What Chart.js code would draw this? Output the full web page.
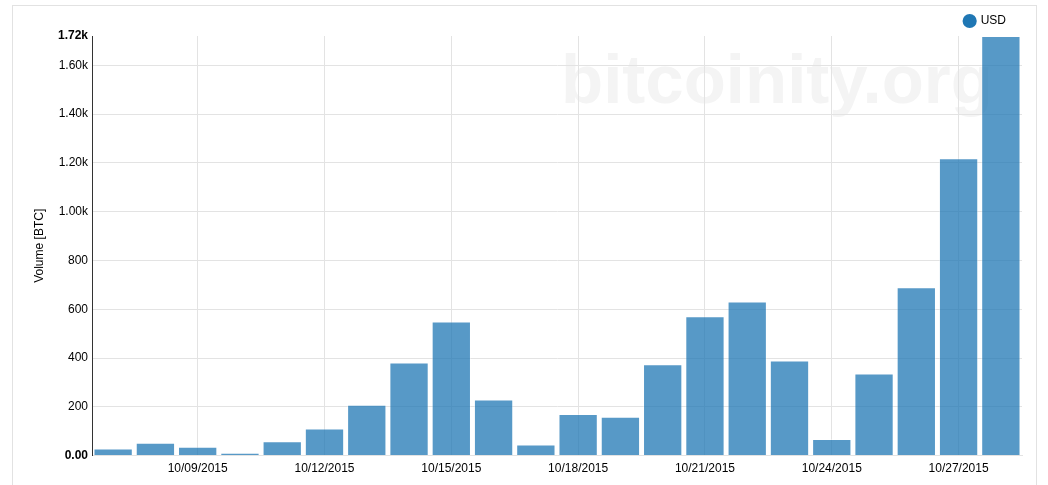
<!DOCTYPE html>
<html>
<head>
<meta charset="utf-8">
<script src="https://cdn.jsdelivr.net/npm/chart.js@4"></script>
<style>
  html, body { margin: 0; padding: 0; background: #fff; }
  body { width: 1048px; height: 485px; position: relative; overflow: hidden; }
  #frame {
    position: absolute; left: 12px; top: 5px; width: 1025px; height: 500px;
    border: 1px solid #e2e2e2; box-sizing: border-box;
  }
  #mark {
    position: absolute; left: 561px; top: 40px;
    font: bold 69px "Liberation Sans", Arial, sans-serif;
    color: #f4f4f4; white-space: nowrap;
  }
  #wrap { position: absolute; left: 0; top: 0; width: 1048px; height: 485px; }
</style>
</head>
<body>
<div id="frame"></div>
<div id="mark">bitcoinity.org</div>
<div id="wrap"><canvas id="myChart" width="1048" height="485"></canvas></div>
<script>
const days = ["10/07/2015", "10/08/2015", "10/09/2015", "10/10/2015", "10/11/2015", "10/12/2015",
    "10/13/2015", "10/14/2015", "10/15/2015", "10/16/2015", "10/17/2015", "10/18/2015",
    "10/19/2015", "10/20/2015", "10/21/2015", "10/22/2015", "10/23/2015", "10/24/2015",
    "10/25/2015", "10/26/2015", "10/27/2015", "10/28/2015"];
const usdVolume = [29, 53, 36, 12, 59, 111, 208, 382, 550, 230, 45, 171,
    159, 374, 571, 632, 390, 68, 337, 690, 1219, 1720];
const yTickValues = [0, 200, 400, 600, 800, 1000, 1200, 1400, 1600, 1720];
const yTickLabels = ["0.00", "200", "400", "600", "800", "1.00k", "1.20k", "1.40k", "1.60k", "1.72k"];

const font = "'Liberation Sans', Arial, sans-serif";
const shown = i => i % 3 === 2;

// nudge the legend a little left/down, like the original
const legendNudge = {
    id: "legendNudge",
    afterLayout(chart) {
        const lg = chart.legend;
        lg.left -= 6; lg.right -= 6;
        lg.top += 1; lg.bottom += 1;
    }
};

new Chart(document.getElementById("myChart"), {
    type: "bar",
    data: {
        labels: days,
        datasets: [{
            label: "USD",
            data: usdVolume,
            backgroundColor: "rgba(31,119,180,0.75)",
            borderColor: "rgba(255,255,255,0.35)",
            borderWidth: 1,
            barPercentage: 0.93,
            categoryPercentage: 1
        }]
    },
    plugins: [legendNudge],
    options: {
        responsive: false,
        animation: false,
        devicePixelRatio: 1,
        layout: { padding: { left: 26, right: 26, top: 4, bottom: 3 } },
        plugins: {
            tooltip: { enabled: false },
            legend: {
                position: "top",
                align: "end",
                labels: {
                    usePointStyle: true,
                    pointStyle: "circle",
                    boxWidth: 10,
                    boxHeight: 10,
                    padding: 10,
                    color: "#000",
                    font: { family: font, size: 12 },
                    generateLabels: chart => [{
                        text: "USD",
                        fillStyle: "rgb(31,119,180)",
                        strokeStyle: "rgb(31,119,180)",
                        lineWidth: 0,
                        pointStyle: "circle",
                        datasetIndex: 0
                    }]
                }
            }
        },
        scales: {
            x: {
                offset: true,
                grid: {
                    offset: false,
                    drawTicks: false,
                    color: ctx => shown(ctx.index) ? "#e3e3e3" : "rgba(0,0,0,0)"
                },
                border: { color: "#e3e3e3" },
                ticks: {
                    autoSkip: false,
                    maxRotation: 0,
                    padding: 6,
                    color: "#000",
                    font: { family: font, size: 12 },
                    callback: (v, i) => shown(i) ? days[i] : ""
                }
            },
            y: {
                min: 0,
                max: 1720,
                afterBuildTicks: scale => {
                    scale.ticks = yTickValues.map(v => ({ value: v }));
                },
                afterFit: scale => { scale.width = 66; },
                grid: {
                    drawTicks: false,
                    color: ctx => ctx.index === yTickValues.length - 1 ? "rgba(0,0,0,0)" : "#e3e3e3"
                },
                border: { color: "#333", width: 1 },
                title: {
                    display: true,
                    text: "Volume [BTC]",
                    color: "#000",
                    padding: { top: 6, bottom: 0 },
                    font: { family: font, size: 12 }
                },
                ticks: {
                    autoSkip: false,
                    padding: 4,
                    color: "#000",
                    font: ctx => ({
                        family: font, size: 12,
                        weight: (ctx.index === 0 || ctx.index === yTickValues.length - 1) ? "bold" : "normal"
                    }),
                    callback: (v, i) => yTickLabels[i]
                }
            }
        }
    }
});
</script>
</body>
</html>
